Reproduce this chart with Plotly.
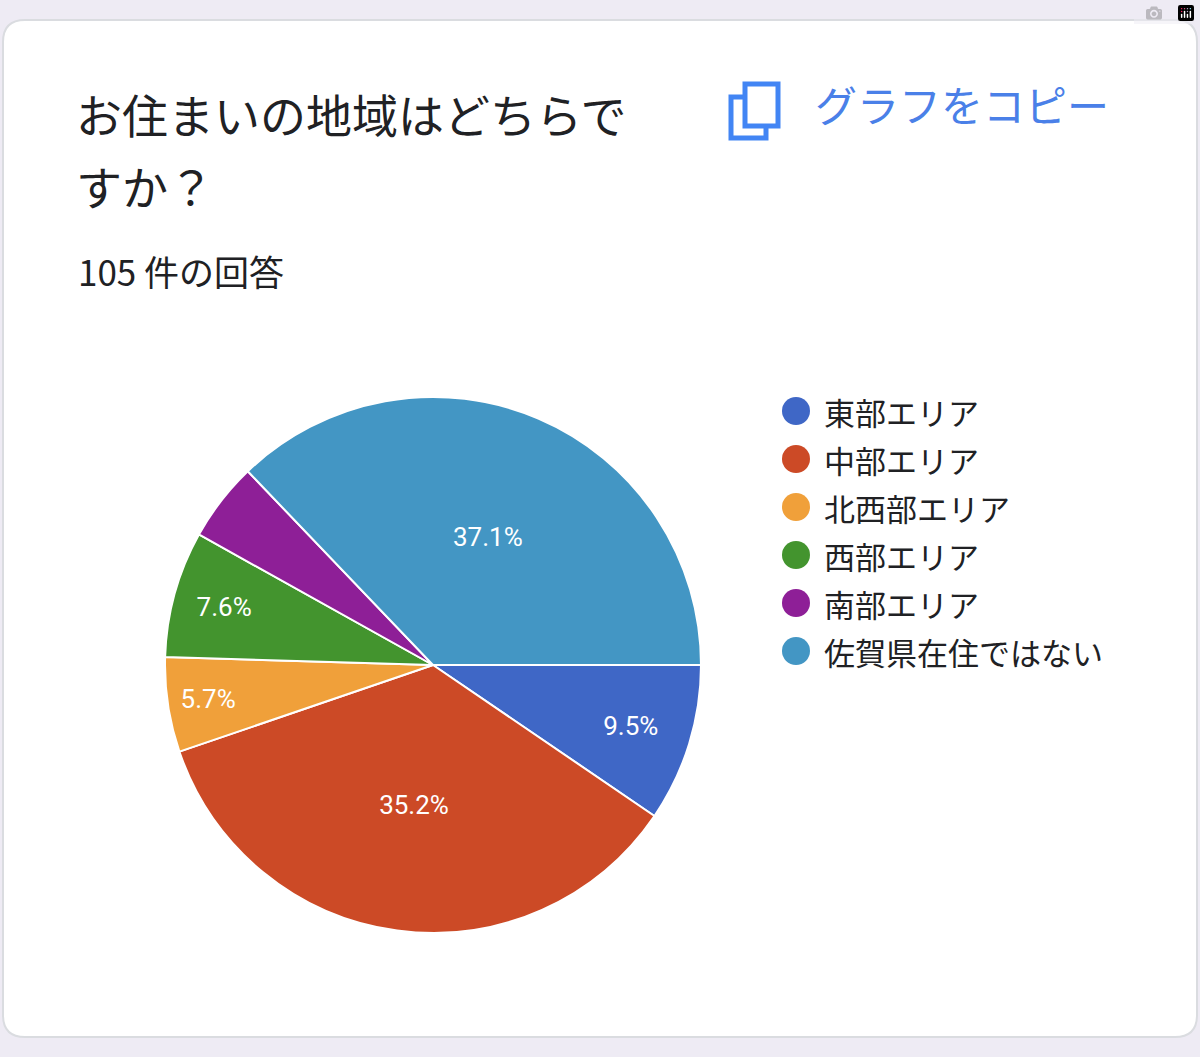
import plotly.graph_objects as go

categories = ["東部エリア", "中部エリア", "北西部エリア", "西部エリア", "南部エリア", "佐賀県在住ではない"]
counts = [10, 37, 6, 8, 5, 39]
colors = ["#3f67c6", "#cc4a26", "#f0a03a", "#43942e", "#8e1f97", "#4396c4"]
show_label = [True, True, True, True, False, True]

W, H = 1200, 1057
FONT = "Noto Sans CJK JP"

fig = go.Figure(go.Pie(
    labels=categories, values=counts, sort=False, direction="clockwise", rotation=90,
    marker=dict(colors=colors, line=dict(color="white", width=2)),
    texttemplate=["%{percent:.1%}" if s else "" for s in show_label],
    textposition="inside", insidetextorientation="horizontal",
    textfont=dict(color="white", size=26, family="Roboto"),
    hoverinfo="label+percent", showlegend=False,
    domain=dict(x=[(433-268)/W, (433+268)/W], y=[1-933/H, 1-397/H]),
))

def px(x): return x / W
def py(y): return 1 - y / H

shapes = []
r = 22
x0, y0, x1, y1 = 3, 20, 1197, 1037
path = (f"M {px(x0+r)} {py(y0)} L {px(x1-r)} {py(y0)} Q {px(x1)} {py(y0)} {px(x1)} {py(y0+r)} "
        f"L {px(x1)} {py(y1-r)} Q {px(x1)} {py(y1)} {px(x1-r)} {py(y1)} L {px(x0+r)} {py(y1)} "
        f"Q {px(x0)} {py(y1)} {px(x0)} {py(y1-r)} L {px(x0)} {py(y0+r)} Q {px(x0)} {py(y0)} {px(x0+r)} {py(y0)} Z")
shapes.append(dict(type="path", xref="paper", yref="paper", path=path,
                   fillcolor="white", line=dict(color="#dadce0", width=2), layer="below"))
shapes.append(dict(type="rect", xref="paper", yref="paper", x0=px(731), x1=px(766), y0=py(138), y1=py(97),
                   line=dict(color="#4285f4", width=5), fillcolor="white"))
shapes.append(dict(type="rect", xref="paper", yref="paper", x0=px(745), x1=px(778), y0=py(126), y1=py(84),
                   line=dict(color="#4285f4", width=5), fillcolor="white"))

annotations = [
    dict(text="お住まいの地域はどちらで", x=px(74), y=py(113), xanchor="left", yanchor="middle",
         showarrow=False, font=dict(size=46, color="#202124", family=FONT)),
    dict(text="すか？", x=px(74), y=py(185), xanchor="left", yanchor="middle",
         showarrow=False, font=dict(size=46, color="#202124", family=FONT)),
    dict(text="105 件の回答", x=px(76), y=py(270), xanchor="left", yanchor="middle",
         showarrow=False, font=dict(size=35, color="#202124", family=FONT)),
    dict(text="グラフをコピー", x=px(813), y=py(104), xanchor="left", yanchor="middle",
         showarrow=False, font=dict(size=42, color="#4a80e8", family=FONT)),
]
for i, (c, col) in enumerate(zip(categories, colors)):
    yc = 411 + i * 48
    shapes.append(dict(type="circle", xref="paper", yref="paper", x0=px(782), x1=px(810),
                       y0=py(yc+14), y1=py(yc-14), fillcolor=col, line=dict(width=0)))
    annotations.append(dict(text=c, x=px(822), y=py(yc), xanchor="left", yanchor="middle",
                            showarrow=False, font=dict(size=31, color="#202124", family=FONT)))

fig.update_layout(width=W, height=H, margin=dict(l=0, r=0, t=0, b=0),
                  paper_bgcolor="#eeebf4", plot_bgcolor="#eeebf4",
                  shapes=shapes, annotations=annotations)
fig.write_html("out.html", post_script="document.body.style.margin='0';document.body.style.overflow='hidden';")
